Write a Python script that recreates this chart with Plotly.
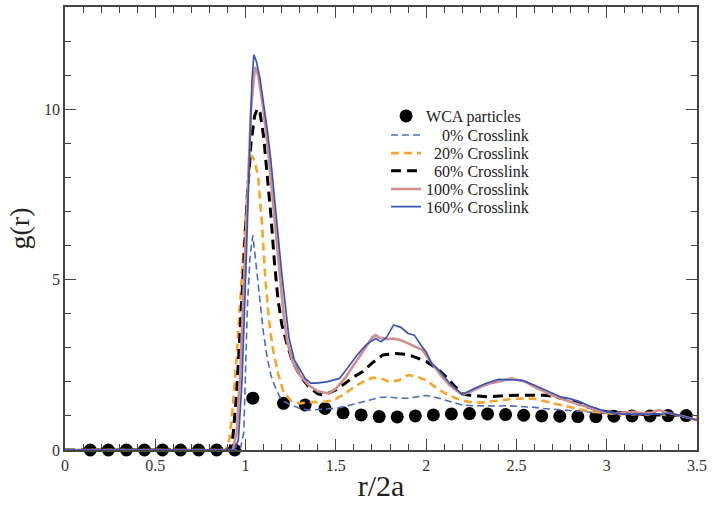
import plotly.graph_objects as go

# ---- data ----
wca_r = [0.14, 0.24, 0.34, 0.44, 0.54, 0.64, 0.74, 0.84, 0.94, 1.04, 1.21, 1.33, 1.44, 1.54, 1.64,
         1.74, 1.84, 1.94, 2.04, 2.14, 2.24, 2.34, 2.44, 2.54, 2.64, 2.74, 2.84, 2.94, 3.04, 3.14,
         3.24, 3.34, 3.44]
wca_g = [0, 0, 0, 0, 0, 0, 0, 0, 0, 1.52, 1.37, 1.32, 1.22, 1.09, 1.03,
         0.98, 0.97, 1.0, 1.03, 1.06, 1.07, 1.06, 1.04, 1.02, 1.0, 0.99, 0.98, 0.98, 0.99, 1.0,
         1.0, 1.01, 1.01]

r0 = [0, 0.97, 0.99, 1.0, 1.01, 1.025, 1.04, 1.055, 1.07, 1.085, 1.1, 1.12, 1.14, 1.16, 1.19, 1.22,
      1.26, 1.3, 1.35, 1.4, 1.45, 1.5, 1.55, 1.6, 1.65, 1.7, 1.75, 1.8, 1.85, 1.9, 1.95, 2.0, 2.05,
      2.1, 2.15, 2.2, 2.25, 2.3, 2.35, 2.4, 2.45, 2.5, 2.55, 2.6, 2.65, 2.7, 2.75, 2.8, 2.85, 2.9,
      2.95, 3.0, 3.1, 3.2, 3.3, 3.4, 3.5]
g0 = [0, 0, 0.5, 2.5, 4.2, 5.7, 6.3, 5.6, 4.8, 4.1, 3.4, 2.7, 2.2, 1.9, 1.55, 1.4,
      1.3, 1.22, 1.17, 1.18, 1.2, 1.22, 1.28, 1.35, 1.42, 1.5, 1.55, 1.55, 1.52, 1.52, 1.56, 1.6, 1.55,
      1.47, 1.38, 1.32, 1.3, 1.29, 1.28, 1.29, 1.3, 1.29, 1.27, 1.25, 1.22, 1.2, 1.17, 1.14, 1.12, 1.1,
      1.08, 1.07, 1.05, 1.03, 1.02, 1.0, 0.98]

r20 = [0, 0.89, 0.91, 0.93, 0.95, 0.97, 0.99, 1.01, 1.03, 1.05, 1.07, 1.09, 1.11, 1.13, 1.15, 1.18,
       1.21, 1.25, 1.3, 1.35, 1.4, 1.45, 1.5, 1.55, 1.6, 1.65, 1.7, 1.75, 1.8, 1.85, 1.9, 1.95, 2.0,
       2.05, 2.1, 2.15, 2.2, 2.25, 2.3, 2.35, 2.4, 2.45, 2.5, 2.55, 2.6, 2.65, 2.7, 2.75, 2.8, 2.85,
       2.9, 3.0, 3.1, 3.2, 3.3, 3.4, 3.5]
g20 = [0, 0, 0.3, 1.3, 2.7, 4.2, 6.0, 7.6, 8.65, 8.5, 8.0, 6.7, 5.0, 3.8, 3.0, 2.25,
       1.7, 1.45, 1.37, 1.4, 1.42, 1.42, 1.5, 1.65, 1.85, 2.0, 2.12, 2.1, 2.0, 2.05, 2.2, 2.15, 2.05,
       1.85, 1.68, 1.55, 1.45, 1.4, 1.39, 1.41, 1.45, 1.48, 1.5, 1.52, 1.5, 1.44, 1.38, 1.32, 1.24, 1.18,
       1.13, 1.08, 1.05, 1.05, 1.05, 1.0, 0.95]

r60 = [0, 0.91, 0.93, 0.95, 0.97, 0.99, 1.01, 1.03, 1.05, 1.065, 1.08, 1.1, 1.12, 1.14, 1.16, 1.18,
       1.2, 1.23, 1.26, 1.3, 1.35, 1.4, 1.43, 1.5, 1.55, 1.6, 1.65, 1.7, 1.76, 1.83, 1.9, 1.95, 2.0,
       2.07, 2.12, 2.16, 2.2, 2.25, 2.3, 2.35, 2.45, 2.55, 2.65, 2.7, 2.75, 2.8, 2.85, 2.9, 3.0, 3.1,
       3.2, 3.3, 3.4, 3.5]
g60 = [0, 0, 0.4, 1.6, 3.5, 5.5, 7.5, 9.0, 9.8, 10.02, 9.9, 9.2, 8.1, 6.9, 5.5, 4.4,
       3.7, 3.1, 2.6, 2.2, 1.85, 1.65, 1.61, 1.76, 1.95, 2.15, 2.3, 2.55, 2.79, 2.83, 2.8, 2.7, 2.6,
       2.35, 2.1, 1.86, 1.65, 1.6, 1.57, 1.56, 1.6, 1.61, 1.61, 1.58, 1.52, 1.45, 1.35, 1.25, 1.12, 1.08,
       1.05, 1.03, 1.02, 1.0]

r100 = [0, 0.93, 0.95, 0.97, 0.99, 1.01, 1.03, 1.052, 1.07, 1.09, 1.11, 1.13, 1.15, 1.17, 1.19, 1.21,
        1.23, 1.26, 1.3, 1.35, 1.4, 1.46, 1.5, 1.55, 1.6, 1.65, 1.7, 1.72, 1.74, 1.78, 1.82, 1.86, 1.9,
        1.95, 1.98, 2.03, 2.08, 2.13, 2.2, 2.25, 2.3, 2.35, 2.4, 2.47, 2.55, 2.6, 2.65, 2.7, 2.75, 2.8,
        2.85, 2.9, 2.95, 3.0, 3.05, 3.1, 3.15, 3.2, 3.25, 3.29, 3.33, 3.4, 3.45, 3.5]
g100 = [0, 0, 0.5, 2.2, 4.8, 7.6, 10.0, 11.24, 11.0, 10.3, 9.5, 8.5, 7.4, 6.2, 5.0, 4.0,
        3.2, 2.6, 2.2, 1.9, 1.72, 1.66, 1.8, 2.1, 2.5, 2.88, 3.3, 3.37, 3.3, 3.25, 3.27, 3.22, 3.13,
        3.0, 2.93, 2.55, 2.2, 1.9, 1.62, 1.72, 1.85, 1.95, 2.0, 2.1, 2.0, 1.85, 1.72, 1.6, 1.5, 1.42,
        1.35, 1.25, 1.15, 1.1, 1.08, 1.1, 1.12, 1.08, 1.1, 1.17, 1.1, 1.02, 0.95, 0.88]

r160 = [0, 0.94, 0.96, 0.98, 1.0, 1.02, 1.035, 1.046, 1.06, 1.08, 1.1, 1.12, 1.14, 1.16, 1.18, 1.2,
        1.22, 1.24, 1.27, 1.3, 1.33, 1.36, 1.39, 1.45, 1.52, 1.57, 1.62, 1.67, 1.72, 1.75, 1.78, 1.82,
        1.86, 1.9, 1.935, 1.97, 2.0, 2.03, 2.07, 2.13, 2.2, 2.27, 2.33, 2.4, 2.46, 2.53, 2.6, 2.68, 2.75,
        2.8, 2.85, 2.9, 2.95, 3.0, 3.05, 3.1, 3.2, 3.3, 3.35, 3.4, 3.45, 3.5]
g160 = [0, 0, 0.3, 2.0, 5.0, 8.5, 10.8, 11.6, 11.4, 10.9, 10.2, 9.4, 8.5, 7.5, 6.3, 5.2,
        4.2, 3.3, 2.64, 2.35, 2.1, 1.96, 1.96, 2.0, 2.1, 2.44, 2.8, 3.1, 3.27, 3.18, 3.3, 3.67,
        3.6, 3.42, 3.37, 3.08, 2.88, 2.54, 2.35, 1.96, 1.63, 1.81, 1.95, 2.07, 2.06, 2.05, 1.9, 1.72, 1.55,
        1.5, 1.42, 1.3, 1.2, 1.12, 1.08, 1.05, 1.05, 1.05, 1.08, 1.02, 0.95, 0.88]

names = ["WCA particles", "\u2007\u20070% Crosslink", "\u200720% Crosslink", "\u200760% Crosslink",
         "100% Crosslink", "160% Crosslink"]

x_ticks = [0, 0.5, 1, 1.5, 2, 2.5, 3, 3.5]
x_ticklabels = ["0", "0.5", "1", "1.5", "2", "2.5", "3", "3.5"]
y_ticks = [0, 5, 10]

serif = "Liberation Serif, Times New Roman, serif"

legend_ids = ["legend", "legend2", "legend3", "legend4", "legend5", "legend6"]

fig = go.Figure()
fig.add_trace(go.Scatter(x=wca_r, y=wca_g, mode="markers", name=names[0], legend=legend_ids[0],
                         marker=dict(color="#000000", size=13), cliponaxis=False))
fig.add_trace(go.Scatter(x=r0, y=g0, mode="lines", name=names[1], legend=legend_ids[1],
                         line=dict(color="#4a6cc4", width=1.6, dash="7px,4px")))
fig.add_trace(go.Scatter(x=r20, y=g20, mode="lines", name=names[2], legend=legend_ids[2],
                         line=dict(color="#f7a52a", width=2.6, dash="8px,5px")))
fig.add_trace(go.Scatter(x=r60, y=g60, mode="lines", name=names[3], legend=legend_ids[3],
                         line=dict(color="#000000", width=3, dash="10px,6px")))
fig.add_trace(go.Scatter(x=r100, y=g100, mode="lines", name=names[4], legend=legend_ids[4],
                         line=dict(color="#d08e8e", width=2.6)))
fig.add_trace(go.Scatter(x=r160, y=g160, mode="lines", name=names[5], legend=legend_ids[5],
                         line=dict(color="#3a54b4", width=1.7)))

axis_common = dict(showgrid=False, zeroline=False, showline=True, linecolor="#444444", linewidth=1.5,
                   mirror="ticks", ticks="inside", ticklen=11, tickwidth=1.3, tickcolor="#444444",
                   automargin=False,
                   tickfont=dict(family=serif, size=16, color="#333333"))

fig.update_xaxes(range=[0, 3.5], tickvals=x_ticks, ticktext=x_ticklabels,
                 minor=dict(dtick=0.1, ticks="inside", ticklen=6, tickcolor="#444444", tickwidth=1.2),
                 title=dict(text="r/2a", font=dict(family=serif, size=30, color="#222222"), standoff=2),
                 **axis_common)
fig.update_yaxes(range=[0, 13], tickvals=y_ticks,
                 minor=dict(dtick=1, ticks="inside", ticklen=6, tickcolor="#444444", tickwidth=1.2),
                 title=dict(text="g(r)", font=dict(family=serif, size=28, color="#222222"), standoff=6),
                 **axis_common)

legend_rows_y = [0.754, 0.711, 0.670, 0.630, 0.589, 0.549]
legend_style = dict(x=0.508, xanchor="left", yanchor="middle", bgcolor="rgba(0,0,0,0)",
                    font=dict(family=serif, size=16, color="#222222"), itemwidth=30)
layout_legends = {lid: dict(y=yy, **legend_style) for lid, yy in zip(legend_ids, legend_rows_y)}

fig.update_layout(
    width=714, height=505,
    margin=dict(l=65, r=17, t=7, b=55),
    paper_bgcolor="white", plot_bgcolor="white",
    showlegend=True,
    **layout_legends,
)

fig.write_html("out.html", config={"displayModeBar": False},
               post_script="document.body.style.margin='0';")
